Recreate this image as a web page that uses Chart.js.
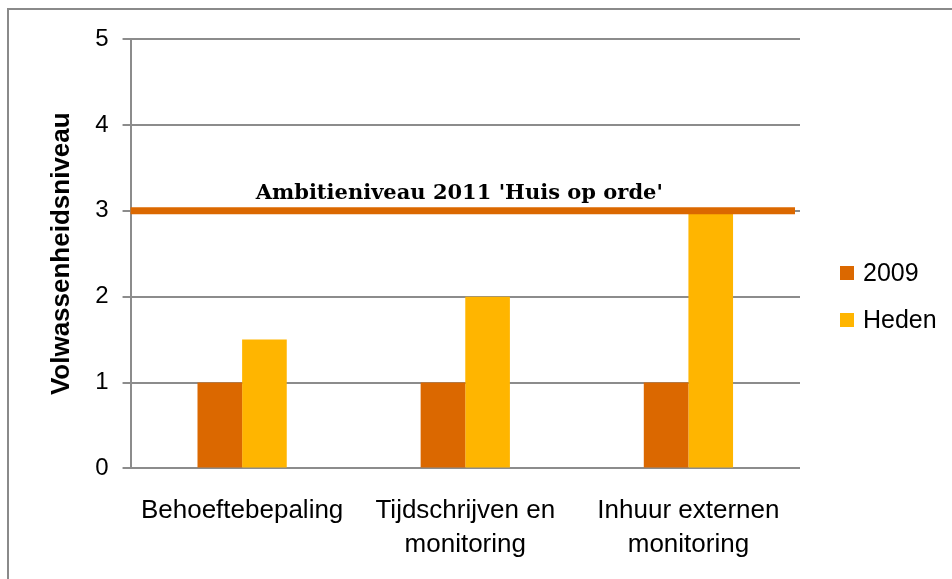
<!DOCTYPE html>
<html>
<head>
<meta charset="utf-8">
<script src="https://cdn.jsdelivr.net/npm/chart.js@4/dist/chart.umd.min.js"></script>
<style>
  body { margin: 0; background: #fff; }
  #wrap { position: relative; width: 952px; height: 579px; }
  #frame {
    position: absolute; left: 7px; top: 8px; right: -10px; bottom: -10px;
    border-left: 2px solid #8a8a8a; border-top: 2px solid #8a8a8a;
    pointer-events: none;
  }
</style>
</head>
<body>
<div id="wrap">
  <canvas id="chart" width="952" height="579"></canvas>
  <div id="frame"></div>
</div>
<script>
const categories = [
  'Behoeftebepaling',
  ['Tijdschrijven en', 'monitoring'],
  ['Inhuur externen', 'monitoring']
]
const seriesNames = ['2009', 'Heden']
const values2009 = [1, 1, 1]
const valuesHeden = [1.5, 2, 3]
const yTicks = [0, 1, 2, 3, 4, 5]
const ambitionLevel = 3
const ambitionLabel = "Ambitieniveau 2011 'Huis op orde'"

const colors = ['#DB6800', '#FFB500']
const gridColor = '#8c8c8c'
const sans = "'Liberation Sans', Arial, sans-serif"

// orange target line across the plot with its caption
const ambitionLine = {
  id: 'ambitionLine',
  afterDatasetsDraw(chart) {
    const { ctx, chartArea, scales } = chart
    const y = scales.y.getPixelForValue(ambitionLevel)
    ctx.save()
    ctx.strokeStyle = colors[0]
    ctx.lineWidth = 7
    ctx.beginPath()
    ctx.moveTo(chartArea.left, y)
    ctx.lineTo(chartArea.right - 5, y)
    ctx.stroke()
    ctx.fillStyle = '#000'
    ctx.font = "bold 21px 'DejaVu Serif', Georgia, serif"
    ctx.textAlign = 'center'
    ctx.textBaseline = 'alphabetic'
    ctx.fillText(ambitionLabel, (chartArea.left + chartArea.right) / 2 - 6, y - 12)
    ctx.restore()
  }
}

// legend drawn on the right, next to the plot
const sideLegend = {
  id: 'sideLegend',
  afterDraw(chart) {
    const { ctx, chartArea } = chart
    const x = chartArea.right + 40
    const startY = 273
    ctx.save()
    ctx.font = `25px ${sans}`
    ctx.textBaseline = 'middle'
    ctx.textAlign = 'left'
    chart.data.datasets.forEach((ds, i) => {
      const cy = startY + i * 47
      ctx.fillStyle = ds.backgroundColor
      ctx.fillRect(x, cy - 7, 14, 14)
      ctx.fillStyle = '#000'
      ctx.fillText(ds.label, x + 23, cy + 1)
    })
    ctx.restore()
  }
}

new Chart(document.getElementById('chart'), {
  type: 'bar',
  data: {
    labels: categories,
    datasets: [
      { label: seriesNames[0], data: values2009, backgroundColor: colors[0] },
      { label: seriesNames[1], data: valuesHeden, backgroundColor: colors[1] }
    ]
  },
  options: {
    responsive: false,
    animation: false,
    maintainAspectRatio: false,
    layout: { padding: { left: 10, right: 152, top: 39, bottom: 0 } },
    datasets: { bar: { categoryPercentage: 0.4, barPercentage: 1.0 } },
    plugins: {
      legend: { display: false },
      tooltip: { enabled: false }
    },
    scales: {
      x: {
        grid: { display: false },
        border: { display: false },
        ticks: {
          color: '#000',
          font: { family: sans, size: 26, lineHeight: 1.28 },
          padding: 18,
          maxRotation: 0
        }
      },
      y: {
        min: 0,
        max: 5,
        afterBuildTicks(scale) {
          scale.ticks = yTicks.map((v) => ({ value: v }))
        },
        grid: { color: gridColor, lineWidth: 2, tickLength: 8 },
        border: { display: true, color: gridColor, width: 2 },
        ticks: {
          color: '#000',
          font: { family: sans, size: 24 },
          padding: 14
        },
        title: {
          display: true,
          text: 'Volwassenheidsniveau',
          color: '#000',
          font: { family: sans, size: 26, weight: 'bold' },
          padding: { top: 36, bottom: 4 }
        }
      }
    }
  },
  plugins: [ambitionLine, sideLegend]
})
</script>
</body>
</html>
